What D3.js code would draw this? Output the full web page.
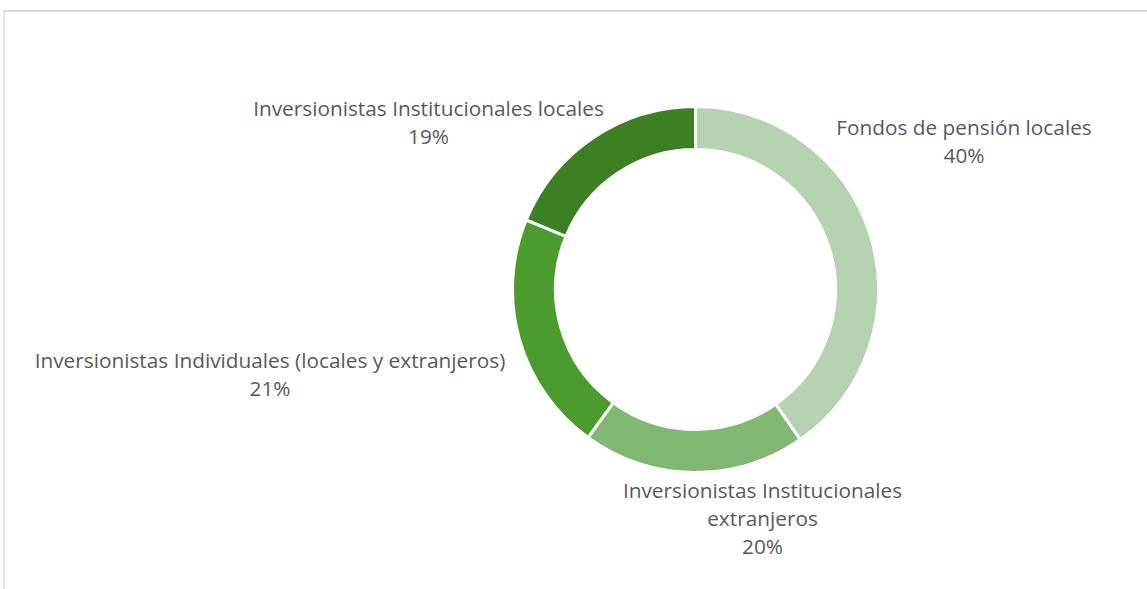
<!DOCTYPE html>
<html><head><meta charset="utf-8">
<script src="https://cdn.jsdelivr.net/npm/d3@7"></script>
<style>body{margin:0;background:#fff}</style>
</head><body>
<svg id="c" width="1147" height="589"></svg>
<script>
// ---- data ----
const categories = [
  "Fondos de pensión locales",
  "Inversionistas Institucionales extranjeros",
  "Inversionistas Individuales (locales y extranjeros)",
  "Inversionistas Institucionales locales"
];
const shares = [40.3, 19.7, 21.2, 18.8];
const labelLines = [
  ["Fondos de pensión locales"],
  ["Inversionistas Institucionales", "extranjeros"],
  ["Inversionistas Individuales (locales y extranjeros)"],
  ["Inversionistas Institucionales locales"]
];
const colors = ["#b5d3b0", "#80b872", "#4b9c2c", "#3c8024"];

// ---- layout ----
const W = 1147, H = 589;
const cx = 695.5, cy = 289.5, rOuter = 183, rInner = 140;
const labelPos = [[964, 134.5], [762.5, 498], [270, 368], [428.5, 116]];
const lineH = 28;

const svg = d3.select("#c");
// frame
svg.append("line").attr("x1",4).attr("x2",W).attr("y1",11).attr("y2",11)
  .attr("stroke","#d9d9d9").attr("stroke-width",2);
svg.append("line").attr("x1",4).attr("x2",4).attr("y1",10).attr("y2",H)
  .attr("stroke","#d9d9d9").attr("stroke-width",1.5);

const data = categories.map((c,i)=>({cat:c, value:shares[i], i}));
const pie = d3.pie().value(d=>d.value).sort(null).startAngle(0).endAngle(2*Math.PI);
const arc = d3.arc().innerRadius(rInner).outerRadius(rOuter);
const arcs = pie(data);

const g = svg.append("g").attr("transform",`translate(${cx},${cy})`);
g.selectAll("path").data(arcs).join("path")
  .attr("d",arc)
  .attr("fill",d=>colors[d.data.i])
  .attr("stroke","#fff").attr("stroke-width",3).attr("stroke-linejoin","miter");

const fmt = v => Math.round(v) + "%";
const lg = svg.append("g").attr("font-family","Open Sans, sans-serif")
  .attr("font-size",20.8).attr("fill","#595959").attr("text-anchor","middle");
arcs.forEach(a=>{
  const i = a.data.i;
  const lines = labelLines[i].concat([fmt(a.data.value)]);
  const t = lg.append("text").attr("x",labelPos[i][0]).attr("y",labelPos[i][1]);
  lines.forEach((s,k)=>{
    t.append("tspan").attr("x",labelPos[i][0]).attr("dy",k===0?0:lineH).text(s);
  });
});
</script>
</body></html>
